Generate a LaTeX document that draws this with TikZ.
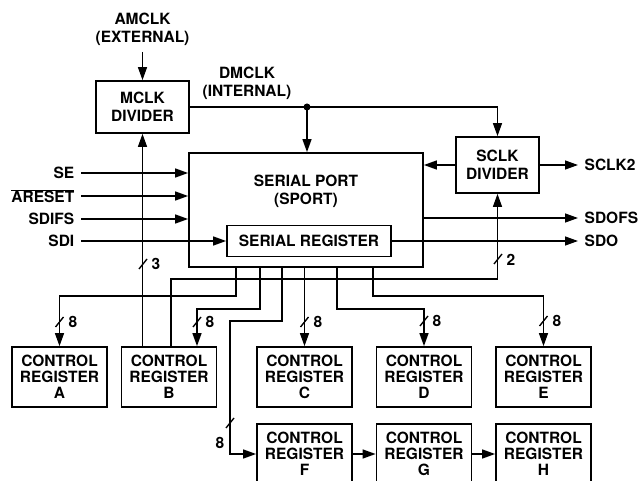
\documentclass[tikz,border=0pt]{standalone}
\usepackage{fontspec}
\setmainfont{TeX Gyre Heros}
\usetikzlibrary{arrows.meta}

\begin{document}
\begin{tikzpicture}[x=1pt, y=-1pt, line width=1.4pt, >={Triangle[length=13pt,width=9pt]}]
\tikzstyle{every node} = [font=\fontsize{15.5}{18}\selectfont\bfseries, align=center, inner sep=0pt]
\tikzstyle{box} = [draw, line width=1.8pt, rectangle]
\tikzstyle{reg} = [box, minimum width=95pt, minimum height=60pt, font=\fontsize{15.5}{16}\selectfont\bfseries]
\tikzstyle{sig} = [inner sep=6pt]
\useasboundingbox (0,0) rectangle (641,481);
\clip (0,0) rectangle (641,481);

\node[box, minimum width=93pt, minimum height=52pt] (mclk) at (142.5,107) {MCLK\\DIVIDER};
\node[box, minimum width=83pt, minimum height=56pt] (sclk) at (497.5,165) {SCLK\\DIVIDER};
\node[box, minimum width=234pt, minimum height=114pt] (sport) at (306,210) {};
\node (sporttext) at (306,191) {SERIAL PORT\\(SPORT)};
\node[box, minimum width=164pt, minimum height=31pt] (sreg) at (309,241) {SERIAL REGISTER};

\node[reg] (rega) at (59.5,377) {CONTROL\\REGISTER\\A};
\node[reg] (regb) at (169,377) {CONTROL\\REGISTER\\B};
\node[reg] (regc) at (304.5,377) {CONTROL\\REGISTER\\C};
\node[reg] (regd) at (424,377) {CONTROL\\REGISTER\\D};
\node[reg] (rege) at (543.5,377) {CONTROL\\REGISTER\\E};
\node[reg] (regf) at (304.5,454) {CONTROL\\REGISTER\\F};
\node[reg] (regg) at (424,454) {CONTROL\\REGISTER\\G};
\node[reg] (regh) at (543.5,454) {CONTROL\\REGISTER\\H};

\node[sig, anchor=south] (amclk) at (142.5,52) {AMCLK\\(EXTERNAL)};
\node (dmclk) at (247,83) {DMCLK\\(INTERNAL)};
\node[sig, anchor=east] (se) at (81,173) {SE};
\node[sig, anchor=east] (areset) at (81,196) {$\overline{\mbox{ARESET}}$};
\node[sig, anchor=east] (sdifs) at (81,219) {SDIFS};
\node[sig, anchor=east] (sdi) at (81,241) {SDI};
\node[sig, anchor=west] (sclk2) at (578,165) {SCLK2};
\node[sig, anchor=west] (sdofs) at (578,218) {SDOFS};
\node[sig, anchor=west] (sdo) at (578,241) {SDO};

% clocks
\coordinate (tap) at (307,107);
\draw [->] (amclk.south) -- (mclk.north);
\draw (mclk.east) -- (tap);
\draw [->] (tap) -| (sclk.north);
\draw [->] (tap) -- (tap |- sport.north);
\fill (tap) circle (3.5);
\draw [->] (sclk.west) -- (sclk.west -| sport.east);
\draw [->] (sclk.east) -- (sclk2.west);

% serial lines
\draw [->] (se.east) -- (se.east -| sport.west);
\draw [->] (areset.east) -- (areset.east -| sport.west);
\draw [->] (sdifs.east) -- (sdifs.east -| sport.west);
\draw [->] (sdi.east) -- (sdi.east -| sreg.west);
\draw [->] (sdofs.west -| sport.east) -- (sdofs.west);
\draw [->] (sreg.east) -- (sdo.west);

% control buses
\draw [->] (mclk.south |- regb.north) -- (mclk.south);
\draw [->] ([xshift=2pt]regb.north) -- ++(0,-67) -| (sclk.south);
\draw [->] ([xshift=-70pt]sport.south) -- ++(0,28) -| (rega.north);
\draw [->] ([xshift=-46pt]sport.south) -- ++(0,41) -| ([xshift=28pt]regb.north);
\draw [->] ([xshift=-24pt]sport.south) -- ++(0,53) -- ++(-52,0) |- (regf.west);
\draw [->] (regc.north |- sport.south) -- (regc.north);
\draw [->] ([xshift=31pt]sport.south) -- ++(0,41) -| (regd.north);
\draw [->] ([xshift=67pt]sport.south) -- ++(0,28) -| (rege.north);
\draw [->] (regf) -- (regg);
\draw [->] (regg) -- (regh);

% bus widths
\draw (139,269) -- ++(8,-10); \node (w3) at (156,264) {3};
\draw (494,264) -- ++(8,-10); \node (w2) at (511,260) {2};
\draw (55.5,327) -- ++(8,-10); \node (wa) at (73,322) {8};
\draw (193,327) -- ++(8,-10); \node (wb) at (210,322) {8};
\draw (300.5,327) -- ++(8,-10); \node (wc) at (318,322) {8};
\draw (420,326) -- ++(8,-10); \node (wd) at (437,321) {8};
\draw (539.5,326) -- ++(8,-10); \node (we) at (557,321) {8};
\draw (226,428) -- ++(8,-10); \node (wf) at (220,443) {8};
\end{tikzpicture}
\end{document}
